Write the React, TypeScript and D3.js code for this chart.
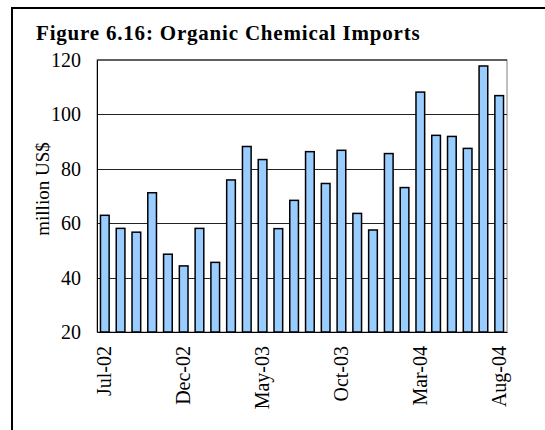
import React, { useEffect, useRef } from "react";
import * as d3 from "d3";

const months = [
  "Jul-02", "Aug-02", "Sep-02", "Oct-02", "Nov-02", "Dec-02",
  "Jan-03", "Feb-03", "Mar-03", "Apr-03", "May-03", "Jun-03",
  "Jul-03", "Aug-03", "Sep-03", "Oct-03", "Nov-03", "Dec-03",
  "Jan-04", "Feb-04", "Mar-04", "Apr-04", "May-04", "Jun-04",
  "Jul-04", "Aug-04",
];
const imports = [
  62.9, 58.1, 56.7, 71.2, 48.6, 44.3, 58.1, 45.6, 75.9, 88.2, 83.4, 58.0, 68.4,
  86.3, 74.6, 86.8, 63.6, 57.5, 85.6, 73.1, 108.2, 92.3, 91.9, 87.5, 117.8, 106.9,
];
const yTicks = [20, 40, 60, 80, 100, 120];
const xTickLabels = ["Jul-02", "Dec-02", "May-03", "Oct-03", "Mar-04", "Aug-04"];

const width = 545;
const height = 430;
const margin = { top: 60, right: 38, bottom: 98, left: 97 };
const font = "'Liberation Serif', 'Times New Roman', serif";

const App = () => {
  const ref = useRef(null);

  useEffect(() => {
    const svg = d3.select(ref.current);
    svg.selectAll("*").remove();

    // outer frame
    svg
      .append("rect")
      .attr("x", 12)
      .attr("y", 8)
      .attr("width", 600)
      .attr("height", 500)
      .attr("fill", "white")
      .attr("stroke", "black")
      .attr("stroke-width", 2);

    svg
      .append("text")
      .attr("x", 36)
      .attr("y", 40)
      .attr("font-family", font)
      .attr("font-weight", "bold")
      .attr("font-size", 21)
      .attr("letter-spacing", 0.8)
      .text("Figure 6.16: Organic Chemical Imports");

    var x = d3
      .scaleBand()
      .domain(months)
      .range([margin.left, width - margin.right])
      .paddingInner(0.45)
      .paddingOuter(0.22);

    var y = d3
      .scaleLinear()
      .domain([20, 120])
      .range([height - margin.bottom, margin.top]);

    // plot border
    svg
      .append("rect")
      .attr("x", margin.left)
      .attr("y", margin.top)
      .attr("width", width - margin.right - margin.left)
      .attr("height", height - margin.bottom - margin.top)
      .attr("fill", "white")
      .attr("stroke", "#808080")
      .attr("stroke-width", 1);

    svg
      .append("line")
      .attr("x1", margin.left)
      .attr("x2", width - margin.right)
      .attr("y1", margin.top)
      .attr("y2", margin.top)
      .attr("stroke", "black");

    // gridlines
    svg
      .append("g")
      .selectAll("line")
      .data(yTicks.slice(1, -1))
      .join("line")
      .attr("x1", margin.left)
      .attr("x2", width - margin.right)
      .attr("y1", (d) => Math.round(y(d)) + 0.5)
      .attr("y2", (d) => Math.round(y(d)) + 0.5)
      .attr("stroke", "#222")
      .attr("stroke-width", 1);

    // bars
    svg
      .append("g")
      .selectAll("rect")
      .data(imports)
      .join("rect")
      .attr("x", (d, i) => x(months[i]))
      .attr("y", (d) => y(d))
      .attr("width", x.bandwidth())
      .attr("height", (d) => y(20) - y(d))
      .attr("fill", "#99CCFF")
      .attr("stroke", "black")
      .attr("stroke-width", 1.5);

    // axes
    var yAxis = (g) =>
      g
        .attr("transform", `translate(${margin.left},0)`)
        .call(d3.axisLeft(y).tickValues(yTicks).tickSize(0).tickPadding(16))
        .call((g) => g.select(".domain").attr("stroke", "black"))
        .call((g) =>
          g
            .selectAll("text")
            .attr("font-family", font)
            .attr("font-size", 20)
            .attr("fill", "black")
        );

    var xAxis = (g) =>
      g
        .attr("transform", `translate(0,${height - margin.bottom})`)
        .call(d3.axisBottom(x).tickValues(xTickLabels).tickSize(0).tickPadding(0))
        .call((g) => g.select(".domain").attr("stroke", "black"))
        .call((g) =>
          g
            .selectAll("text")
            .attr("font-family", font)
            .attr("font-size", 20)
            .attr("fill", "black")
            .attr("text-anchor", "end")
            .attr("transform", "rotate(-90)")
            .attr("x", -14)
            .attr("y", 0)
            .attr("dy", "0.32em")
        );

    svg.append("g").call(xAxis);
    svg.append("g").call(yAxis);

    svg
      .append("text")
      .attr("transform", `translate(42,189) rotate(-90)`)
      .attr("text-anchor", "middle")
      .attr("dy", "0.35em")
      .attr("font-family", font)
      .attr("font-size", 19)
      .text("million US$");
  }, []);

  return (
    <svg
      ref={ref}
      width={width}
      height={height}
      style={{ position: "absolute", left: 0, top: 0, background: "white" }}
    />
  );
};

export default App;
